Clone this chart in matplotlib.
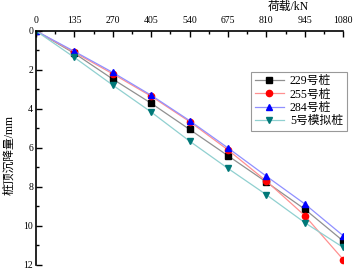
import numpy as np
import matplotlib.pyplot as plt
from matplotlib.ticker import MultipleLocator

plt.rcParams['font.family'] = ['Liberation Serif', 'Noto Sans CJK SC']
plt.rcParams['axes.unicode_minus'] = False

# load (kN) and settlement (mm)
load = [0, 135, 270, 405, 540, 675, 810, 945, 1080]
s229 = [0, 1.15, 2.47, 3.71, 5.05, 6.4, 7.75, 9.14, 10.77]
s255 = [0, 1.1, 2.2, 3.35, 4.65, 6.1, 7.7, 9.47, 11.72]
s284 = [0, 1.05, 2.13, 3.3, 4.6, 6.0, 7.45, 8.87, 10.5]
s5 = [0, 1.36, 2.78, 4.16, 5.65, 7.05, 8.4, 9.83, 11.1]

series = [
    ("229号桩", s229, "#909090", "black", "s"),
    ("255号桩", s255, "#ff9090", "red", "o"),
    ("284号桩", s284, "#9090ff", "blue", "^"),
    ("5号模拟桩", s5, "#90d0d0", "#007878", "v"),
]

fig = plt.figure(figsize=(3.58, 2.69), dpi=100)
ax = fig.add_axes([0.1006, 0.015, 0.858, 0.87])

for name, s, lc, mc, m in series:
    ax.plot(load, s, color=lc, lw=0.9, marker=m, markersize=4.5,
            markerfacecolor=mc, markeredgecolor=mc, label=name)

ax.set_xlim(0, 1080)
ax.set_ylim(12, 0)
ax.xaxis.tick_top()
ax.set_xticks(load)
ax.xaxis.set_minor_locator(MultipleLocator(67.5))
ax.yaxis.set_major_locator(MultipleLocator(2))
ax.yaxis.set_minor_locator(MultipleLocator(1))
ax.tick_params(axis='both', which='major', direction='in', length=4, width=1,
               labelsize=7, pad=2)
ax.tick_params(axis='both', which='minor', direction='in', length=2, width=1)
ax.tick_params(axis='x', pad=4)
ax.spines['right'].set_visible(False)
ax.spines['bottom'].set_visible(False)
for sp in ('left', 'top'):
    ax.spines[sp].set_linewidth(1.2)

fig.text(0.805, 0.975, "荷载/kN", fontsize=8.5, ha='center', va='center')
fig.text(0.027, 0.424, "桩顶沉降量/mm", fontsize=8.5, rotation=90, ha='center', va='center')

leg = ax.legend(loc='upper left', bbox_to_anchor=(0.70, 0.825), fontsize=8.5,
                frameon=True, fancybox=False, edgecolor='#808080',
                handlelength=2.5, borderpad=0.3, labelspacing=0.1,
                handletextpad=0.5, borderaxespad=0)
leg.get_frame().set_linewidth(0.8)

fig.savefig("out.png", dpi=100)
